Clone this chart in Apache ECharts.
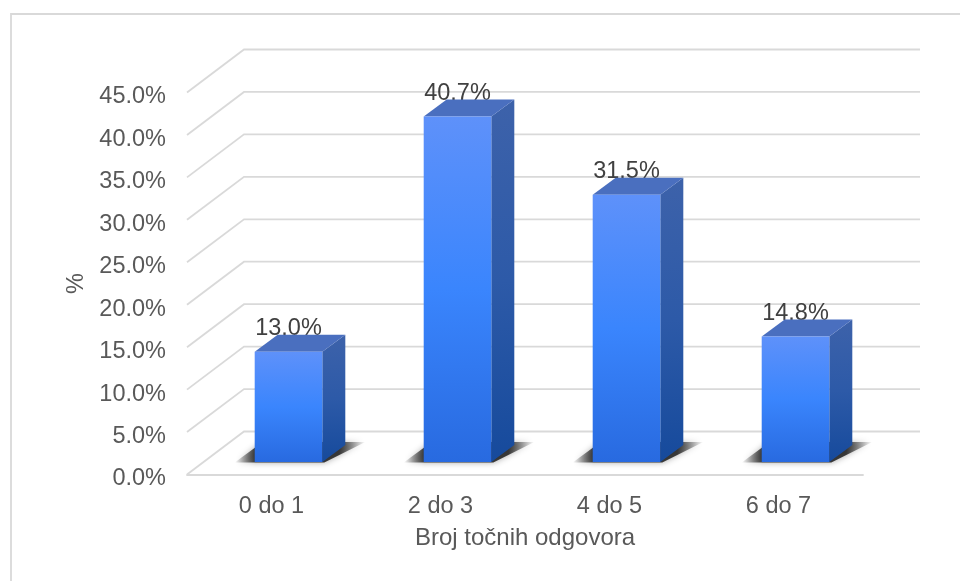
<!DOCTYPE html>
<html>
<head>
<meta charset="utf-8">
<style>
  html, body { margin: 0; padding: 0; background: #fff; }
  #chart { width: 960px; height: 581px; }
</style>
<script src="https://cdn.jsdelivr.net/npm/echarts@6/dist/echarts.min.js"></script>
</head>
<body>
<div id="chart"></div>
<script>
// chart data
var categories = ["0 do 1", "2 do 3", "4 do 5", "6 do 7"];
var shares = [13.0, 40.7, 31.5, 14.8];
var yTicks = [0, 5, 10, 15, 20, 25, 30, 35, 40, 45];

// 3d look of the walls and bars, in pixels
var FONT = "'Liberation Sans', Arial, sans-serif";
var WALL_DX = 57, WALL_DY = -43;
var BAR_SHIFT_X = 17, BAR_SHIFT_Y = -12.4;
var BAR_DEPTH_X = 23, BAR_DEPTH_Y = -17;
var GRID_COLOR = "#d9d9d9";

function vGradient(top, middle, bottom) {
  return {
    type: "linear", x: 0, y: 0, x2: 0, y2: 1,
    colorStops: [
      { offset: 0, color: top },
      { offset: 0.5, color: middle },
      { offset: 1, color: bottom }
    ]
  };
}

// gridline: side wall diagonal, then along the back wall
function renderWall(params, api) {
  var pos = api.coord([0, api.value(1)]);
  var sys = params.coordSys;
  var y = pos[1];
  return {
    type: "polyline",
    silent: true,
    shape: {
      points: [
        [sys.x, y],
        [sys.x + WALL_DX, y + WALL_DY],
        [sys.x + sys.width + WALL_DX, y + WALL_DY]
      ]
    },
    style: { fill: "none", stroke: GRID_COLOR, lineWidth: 1.8 }
  };
}

// one bar: floor shadow, label, then the three visible faces
function renderBar(params, api) {
  var value = api.value(1);
  var top = api.coord([api.value(0), value]);
  var base = api.coord([api.value(0), 0]);
  var width = api.size([1, 0])[0] * 0.4;
  var x0 = top[0] + BAR_SHIFT_X - width / 2;
  var x1 = x0 + width;
  var yTop = top[1] + BAR_SHIFT_Y;
  var yBase = base[1] + BAR_SHIFT_Y;
  var dx = BAR_DEPTH_X, dy = BAR_DEPTH_Y;

  return {
    type: "group",
    silent: true,
    children: [
      {
        type: "polygon",
        shape: {
          points: [
            [x0 - 20, yBase + 0.5],
            [x1 + 2, yBase + 0.5],
            [x1 + dx + 20, yBase + dy - 3],
            [x0 + 8, yBase + dy - 3]
          ]
        },
        style: {
          fill: {
            type: "linear", x: 0, y: 0, x2: 1, y2: 0,
            colorStops: [
              { offset: 0, color: "rgba(40,40,40,0)" },
              { offset: 0.16, color: "rgba(40,40,40,0.9)" },
              { offset: 0.8, color: "rgba(40,40,40,0.9)" },
              { offset: 1, color: "rgba(40,40,40,0)" }
            ]
          },
          shadowBlur: 6,
          shadowColor: "rgba(40,40,40,0.45)"
        }
      },
      {
        type: "text",
        style: {
          x: (x0 + x1) / 2,
          y: yTop - 23,
          text: value.toFixed(1) + "%",
          fill: "#404040",
          font: "23.5px " + FONT,
          align: "center",
          verticalAlign: "middle"
        }
      },
      {
        type: "polygon",
        shape: { points: [[x1, yTop], [x1 + dx, yTop + dy], [x1 + dx, yBase + dy], [x1, yBase]] },
        style: { fill: vGradient("#3d62aa", "#2d5aa8", "#164a9c") }
      },
      {
        type: "polygon",
        shape: { points: [[x0, yTop], [x0 + dx, yTop + dy], [x1 + dx, yTop + dy], [x1, yTop]] },
        style: { fill: "#4a6fbf" }
      },
      {
        type: "rect",
        shape: { x: x0, y: yTop, width: width, height: yBase - yTop },
        style: { fill: vGradient("#5e91fa", "#3a85fd", "#286ae0") }
      }
    ]
  };
}

var myChart = echarts.init(document.getElementById("chart"));

var option = {
  animation: false,
  backgroundColor: "#fff",
  textStyle: { fontFamily: FONT },
  graphic: [
    {
      // chart frame, only top and left fall inside the picture
      type: "rect",
      silent: true,
      shape: { x: 11, y: 14, width: 1200, height: 900 },
      style: { fill: "none", stroke: GRID_COLOR, lineWidth: 1.8 }
    }
  ],
  grid: { left: 187, top: 92.5, width: 676, height: 382 },
  xAxis: {
    type: "category",
    data: categories,
    name: "Broj točnih odgovora",
    nameLocation: "middle",
    nameGap: 52,
    nameTextStyle: { color: "#595959", fontSize: 24, fontFamily: FONT },
    axisLine: { lineStyle: { color: GRID_COLOR, width: 1.8 } },
    axisTick: { show: false },
    axisLabel: { color: "#595959", fontSize: 23.5, fontFamily: FONT, margin: 20 }
  },
  yAxis: {
    type: "value",
    min: 0,
    max: 45,
    interval: 5,
    name: "%",
    nameLocation: "middle",
    nameGap: 95,
    nameRotate: 90,
    nameTextStyle: { color: "#595959", fontSize: 23.5, fontFamily: FONT },
    axisLine: { show: false },
    axisTick: { show: false },
    splitLine: { show: false },
    axisLabel: {
      margin: 21,
      // rich token, the labels sit a little below their gridlines
      formatter: function (val) {
        return "{tick|" + val.toFixed(1) + "%}";
      },
      rich: {
        tick: {
          color: "#595959",
          fontSize: 23.5,
          fontFamily: FONT,
          padding: [9, 0, 0, 0]
        }
      }
    }
  },
  series: [
    {
      type: "custom",
      z: 1,
      clip: false,
      renderItem: renderWall,
      encode: { x: 0, y: 1 },
      data: yTicks.map(function (t) { return [0, t]; })
    },
    {
      type: "custom",
      z: 2,
      clip: false,
      renderItem: renderBar,
      encode: { x: 0, y: 1 },
      data: shares.map(function (v, i) { return [i, v]; })
    }
  ]
};

myChart.setOption(option);
</script>
</body>
</html>
